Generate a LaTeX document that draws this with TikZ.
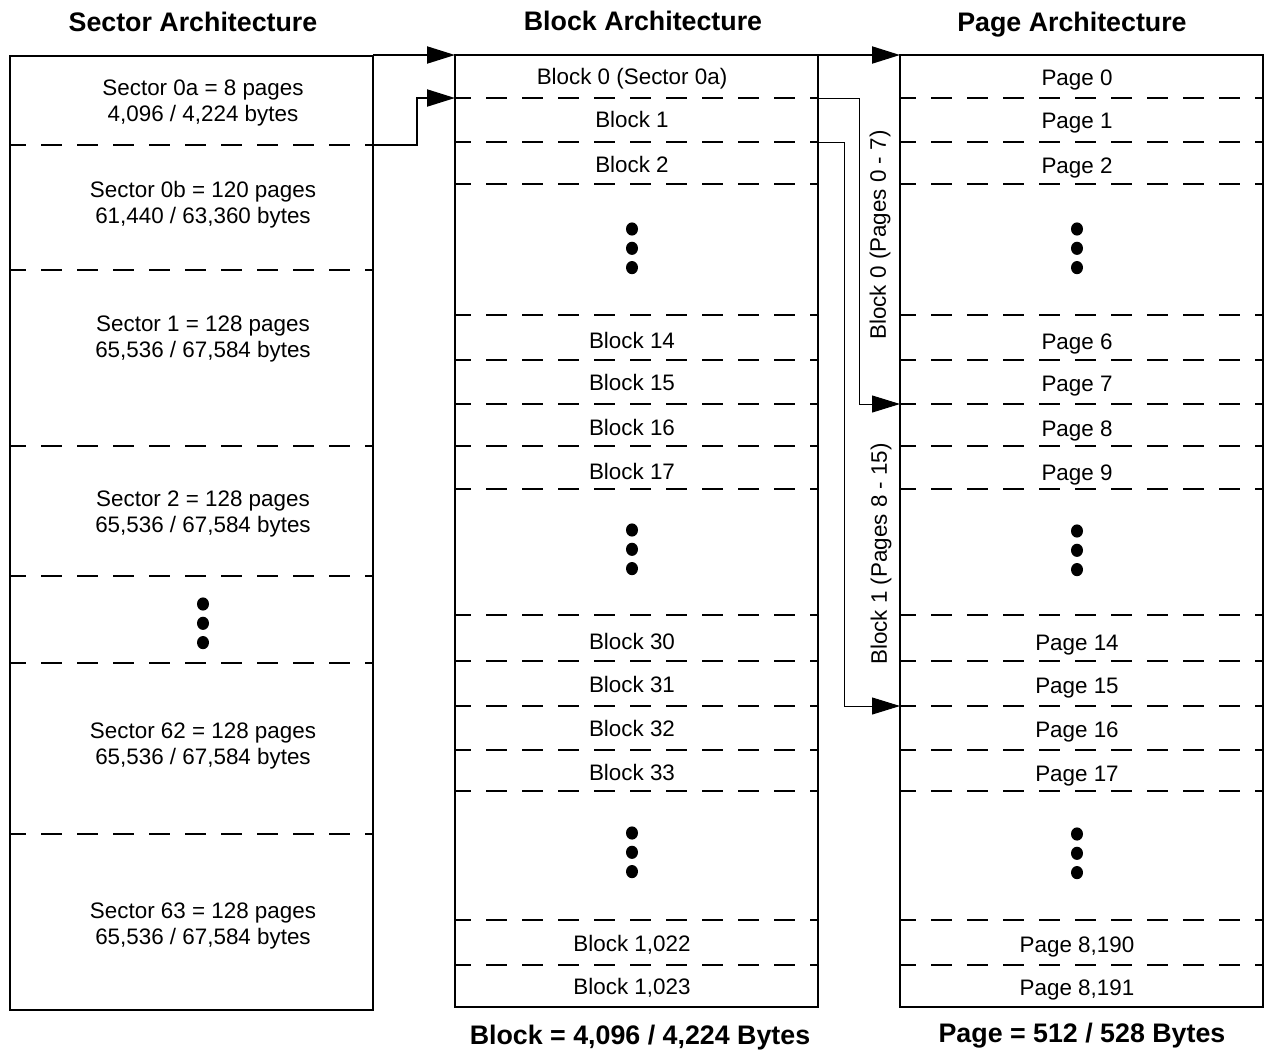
\documentclass[tikz,border=0pt]{standalone}
\usepackage{fontspec}
\setmainfont{Liberation Sans}
\usetikzlibrary{arrows.meta}
\tikzset{
  colbox/.style={draw, line width=1.25pt, inner sep=0pt, outer sep=0pt, minimum width=181.5pt, anchor=north west},
  sepline/.style={line width=1pt, dash pattern=on 10.5pt off 7.5pt, dash phase=2.5pt},
  lbl/.style={font=\fontsize{11.2}{13}\selectfont, align=center, inner sep=0pt},
  ttl/.style={font=\fontsize{13.4}{16}\selectfont\bfseries, inner sep=0pt, anchor=base},
  link/.style={line width=1pt, -{Triangle[length=14pt,width=8.5pt]}},
  thinlink/.style={line width=0.5pt, -{Triangle[length=14pt,width=8.5pt]}}
}
\begin{document}
\begin{tikzpicture}[x=0.5pt, y=-0.5pt]
\useasboundingbox (0,0) rectangle (1266,1051);
% the three columns
\node[colbox, minimum height=477pt] (sector) at (10,56) {};
\node[colbox, minimum height=476pt] (block) at (455,55) {};
\node[colbox, minimum height=476pt] (page) at (900,55) {};
\node[ttl] (tsector) at (193,31.5) {Sector Architecture};
\node[ttl] (tblock) at (643,30.5) {Block Architecture};
\node[ttl] (tpage) at (1072,31.5) {Page Architecture};
\node[ttl] (fblock) at (640,1044.5) {Block = 4,096 / 4,224 Bytes};
\node[ttl] (fpage) at (1082,1042) {Page = 512 / 528 Bytes};

\foreach \y [count=\i] in {145,270,446,576,663,834}{
\draw[sepline] (sector.west |- 0,\y) -- (sector.east |- 0,\y);
\coordinate (ss\i) at (sector.east |- 0,\y);
}
\foreach \y [count=\i] in {98,142,184,315,360,404,446,489,615,661,706,750,791,920,965}{
\draw[sepline] (block.west |- 0,\y) -- (block.east |- 0,\y);
\draw[sepline] (page.west |- 0,\y) -- (page.east |- 0,\y);
\coordinate (bs\i) at (block.east |- 0,\y);
\coordinate (bw\i) at (block.west |- 0,\y);
\coordinate (pw\i) at (page.west |- 0,\y);
}

\foreach \y/\t [count=\i] in {102.5/{Sector 0a = 8 pages\\4,096 / 4,224 bytes},
  204.5/{Sector 0b = 120 pages\\61,440 / 63,360 bytes},
  338.5/{Sector 1 = 128 pages\\65,536 / 67,584 bytes},
  513.5/{Sector 2 = 128 pages\\65,536 / 67,584 bytes},
  745.5/{Sector 62 = 128 pages\\65,536 / 67,584 bytes},
  925.5/{Sector 63 = 128 pages\\65,536 / 67,584 bytes}}{
\node[lbl] (s\i) at (203,\y) {\t};
}
\foreach \y/\b/\p [count=\i] in {76/0 (Sector 0a)/0, 119/1/1, 164/2/2, 340/14/6, 382/15/7,
  427/16/8, 471/17/9, 641/30/14, 684/31/15, 728/32/16, 772/33/17,
  943/{1,022}/{8,190}, 986/{1,023}/{8,191}}{
\node[lbl, anchor=base] (b\i) at (632,\y+8) {Block \b};
\node[lbl, anchor=base] (p\i) at (1077,\y+9) {Page \p};
}

% vertical dots
\foreach \x/\y in {203/604, 632/229, 632/530, 632/833, 1077/229, 1077/531, 1077/834}{
\foreach \k in {0,1,2}
\fill (\x,\y+19.3*\k) ellipse [x radius=3pt, y radius=3.3pt];
}

% connectors
\draw[link] (sector.north east |- block.north west) -- (block.north west);
\draw[link] (ss1) -- ++(44,0) |- (bw1);
\draw[link] (block.north east) -- (page.north west);
\draw[thinlink] (bs1) -- (859,98) |- (pw6);
\draw[thinlink] (bs2) -- (844,142) |- (pw11);
\node[lbl, rotate=90] (r0) at (880,235) {Block 0 (Pages 0 - 7)};
\node[lbl, rotate=90] (r1) at (881,554) {Block 1 (Pages 8 - 15)};
\end{tikzpicture}
\end{document}
